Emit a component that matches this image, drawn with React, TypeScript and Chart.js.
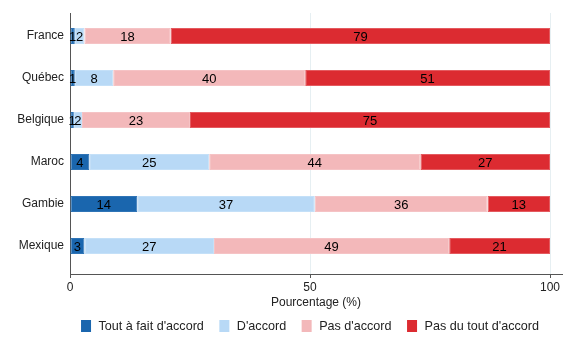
import React, { useEffect, useRef } from "react";
import { Chart, registerables } from "chart.js";

Chart.register(...registerables);

const categories = ["France", "Québec", "Belgique", "Maroc", "Gambie", "Mexique"];
const seriesNames = ["Tout à fait d'accord", "D'accord", "Pas d'accord", "Pas du tout d'accord"];
const toutAFaitDaccord = [1, 1, 0.8, 4, 14, 3];
const daccord = [2, 8, 1.7, 25, 37, 27];
const pasDaccord = [18, 40, 22.5, 44, 36, 49];
const pasDuToutDaccord = [79, 51, 75, 27, 13, 21];
const xTicks = [0, 50, 100];
const xTitle = "Pourcentage (%)";

const fills = ["#1a66ae", "#b8d9f6", "#f3b8ba", "#dc2b31"];
const borders = ["#2f74b6", "#c4e0f8", "#f5c3c5", "#e45a5f"];

const FONT = "Arial, 'Liberation Sans', Helvetica, sans-serif";

const labelPlugin = {
  id: "segLabels",
  afterDatasetsDraw(chart: any) {
    const ctx = chart.ctx;
    ctx.save();
    ctx.font = `13px ${FONT}`;
    ctx.fillStyle = "#000";
    ctx.textAlign = "center";
    ctx.textBaseline = "middle";
    chart.data.datasets.forEach((ds: any, di: number) => {
      const meta = chart.getDatasetMeta(di);
      meta.data.forEach((el: any, i: number) => {
        const v = ds.data[i].x;
        const cx = (el.x + el.base) / 2;
        ctx.fillText(String(Math.round(v)), cx, el.y + 1);
      });
    });
    ctx.restore();
  },
};

const legendPlugin = {
  id: "customLegend",
  afterDraw(chart: any) {
    const ctx = chart.ctx;
    const xs = chart.scales.x;
    const center = xs.getPixelForValue(50);
    const y = 318;
    const boxW = 10;
    const boxH = 12;
    const gapText = 7.5;
    const gapItem = 15.5;
    ctx.save();
    ctx.font = `12.6px ${FONT}`;
    const widths = seriesNames.map((n) => ctx.measureText(n).width);
    let total = 0;
    widths.forEach((w, i) => {
      total += boxW + gapText + w + (i < widths.length - 1 ? gapItem : 0);
    });
    let x = center - total / 2;
    ctx.textBaseline = "middle";
    ctx.textAlign = "left";
    seriesNames.forEach((n, i) => {
      ctx.fillStyle = fills[i];
      ctx.fillRect(x, y - boxH / 2, boxW, boxH);
      ctx.fillStyle = "#222";
      ctx.fillText(n, x + boxW + gapText, y + 0.5);
      x += boxW + gapText + widths[i] + gapItem;
    });
    ctx.restore();
  },
};

export default function App() {
  const ref = useRef<HTMLCanvasElement | null>(null);
  useEffect(() => {
    if (!ref.current) return;
    const series = [toutAFaitDaccord, daccord, pasDaccord, pasDuToutDaccord];
    const chart = new Chart(ref.current, {
      type: "bar",
      data: {
        labels: categories,
        datasets: series.map((d, i) => ({
          label: seriesNames[i],
          data: d.map((v, j) => ({ x: v, y: j })),
          backgroundColor: fills[i],
          borderColor: borders[i],
          borderWidth: 1,
          borderSkipped: false,
          barPercentage: 0.381,
          categoryPercentage: 1,
        })),
      },
      options: {
        indexAxis: "y",
        animation: false,
        responsive: true,
        maintainAspectRatio: false,
        layout: { padding: { left: 0, right: 6, top: 5, bottom: 36 } },
        plugins: {
          tooltip: { enabled: false },
          legend: { display: false },
        },
        scales: {
          x: {
            type: "linear",
            stacked: true,
            min: 0,
            max: 102.5,
            afterBuildTicks: (s: any) => {
              s.ticks = xTicks.map((v) => ({ value: v }));
            },
            afterFit: (s: any) => {
              s.height = 37;
            },
            grid: {
              color: "#e6eff2",
              tickColor: "#555",
              tickLength: 4,
              drawTicks: true,
            },
            border: { display: true, color: "#555", width: 1 },
            ticks: {
              padding: 2.5,
              color: "#222",
              font: { family: FONT, size: 12 },
              maxRotation: 0,
            },
            title: {
              display: true,
              text: xTitle,
              color: "#222",
              font: { family: FONT, size: 12, lineHeight: 1 },
              padding: { top: 0, bottom: 2 },
            },
          },
          y: {
            type: "linear",
            stacked: true,
            reverse: true,
            offset: false,
            min: -0.548,
            max: 5.667,
            afterBuildTicks: (s: any) => {
              s.ticks = categories.map((_, i) => ({ value: i }));
            },
            afterFit: (s: any) => {
              s.width = 62;
              s.paddingTop = 0;
              s.paddingBottom = 0;
            },
            grid: { display: false, drawTicks: false, offset: false },
            border: { display: true, color: "#555", width: 1 },
            ticks: {
              padding: 6,
              color: "#222",
              font: { family: FONT, size: 12 },
              callback: (v: any) => categories[Math.round(Number(v))] ?? "",
            },
          },
        },
      },
      plugins: [labelPlugin, legendPlugin],
    } as any);
    return () => chart.destroy();
  }, []);
  return (
    <div style={{ width: 560, height: 339, position: "relative" }}>
      <canvas ref={ref} />
    </div>
  );
}
